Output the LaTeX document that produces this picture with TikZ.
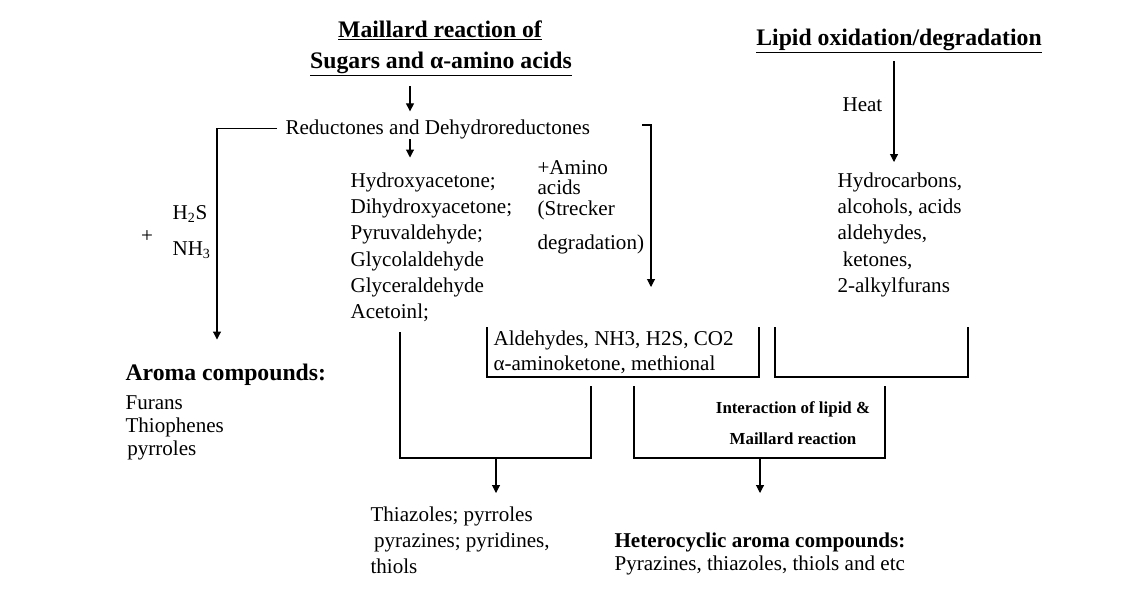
\documentclass[tikz,border=0pt]{standalone}
\usepackage{fontspec}
\setmainfont{Liberation Serif}
\usetikzlibrary{arrows.meta}
\tikzstyle{txt}=[inner sep=0pt,align=left,font=\fontsize{12}{15}\selectfont]
\tikzstyle{ttl}=[inner sep=0pt,font=\bfseries\fontsize{13.5}{16}\selectfont]
\tikzstyle{arr}=[-{Triangle[length=1.6mm,width=1.6mm]}]

\begin{document}
\begin{tikzpicture}[x=0.02cm,y=-0.02cm,line width=0.6pt]
    \useasboundingbox (0,0) rectangle (1145,596);
    % columns of the vertical arrows
    \coordinate (mainx) at (410,0);
    \coordinate (leftx) at (217,0);
    \coordinate (heatx) at (894,0);
    \coordinate (strA) at (642,125);
    \coordinate (strB) at (651,287);
    \coordinate (joinA) at (496,458);
    \coordinate (joinB) at (760,458);

    % titles
    \node[ttl,anchor=base] (maillard) at (440,37) {\underline{Maillard reaction of}};
    \node[ttl,anchor=base] (sugars) at (441,68) {\underline{Sugars and α-amino acids}};
    \node[ttl,anchor=base] (lipid) at (899,45) {\underline{Lipid oxidation/degradation}};

    % Maillard side
    \node[txt,anchor=base west] (reduct) at (285,134) {Reductones and Dehydroreductones};
    \node[txt,anchor=north west] (carbonyls) at (350,172)
        {Hydroxyacetone;\\Dihydroxyacetone;\\Pyruvaldehyde;\\Glycolaldehyde\\Glyceraldehyde\\Acetoinl;};
    \node[txt,anchor=north west,font=\fontsize{12}{11.6}\selectfont] (strecker) at (537,160)
        {+Amino\\acids\\(Strecker\\[7.7pt]degradation)};
    \node[txt,anchor=north west,font=\fontsize{12}{20.4}\selectfont] (sulfur) at (172,205)
        {H\textsubscript{2}S\\NH\textsubscript{3}};
    \node[txt] (plus) at (147,237) {+};
    \node[ttl,anchor=base west] (aroma) at (125,380) {Aroma compounds:};
    \node[txt,anchor=north west,font=\fontsize{12}{13}\selectfont] (aromalist) at (125,395)
        {Furans\\Thiophenes\\\hspace*{1pt}pyrroles};
    \node[txt,anchor=north west,font=\fontsize{12}{14.2}\selectfont] (volatiles) at (493,330)
        {Aldehydes, NH3, H2S, CO2\\α-aminoketone, methional};

    % lipid side
    \node[txt,anchor=west] (heat) at (842,105) {Heat};
    \node[txt,anchor=north west] (lipidprod) at (837,172)
        {Hydrocarbons,\\alcohols, acids\\aldehydes,\\\hspace*{3pt}ketones,\\2-alkylfurans};

    % products
    \node[txt,anchor=north,align=center,font=\bfseries\fontsize{9.6}{17.5}\selectfont] (interact) at (793,401)
        {Interaction of lipid \&\\Maillard reaction};
    \node[txt,anchor=north west] (thiazoles) at (370,506)
        {Thiazoles; pyrroles\\\hspace*{2pt}pyrazines; pyridines,\\thiols};
    \node[txt,anchor=north west,font=\fontsize{12}{13}\selectfont] (hetero) at (614,532)
        {\textbf{Heterocyclic aroma compounds:}\\Pyrazines, thiazoles, thiols and etc};

    % arrows
    \draw[arr,shorten <=1.8mm,shorten >=1.5mm] (sugars.south -| mainx) -- (reduct.north -| mainx);
    \draw[arr,shorten >=2.9mm] (reduct.south -| mainx) -- (carbonyls.north -| mainx);
    \draw[arr,shorten >=4.7mm] ([xshift=-1.6mm]reduct.west) -| (aroma.north -| leftx);
    \draw[arr] (strA) -| (strB);
    \draw[arr,shorten <=1.4mm,shorten >=2mm] (lipid.south -| heatx) -- (lipidprod.north -| heatx);

    % open trays
    \draw (487,327) |- (759,377) -- (759,327);
    \draw (775,327) |- (968,377) -- (968,327);
    \draw (400,332) |- (591,458) -- (591,386);
    \draw (634,386) |- (885,458) -- (885,386);
    \draw[arr,shorten >=2.6mm] (joinA) -- (thiazoles.north -| joinA);
    \draw[arr,shorten >=7.8mm] (joinB) -- (hetero.north -| joinB);
\end{tikzpicture}
\end{document}
